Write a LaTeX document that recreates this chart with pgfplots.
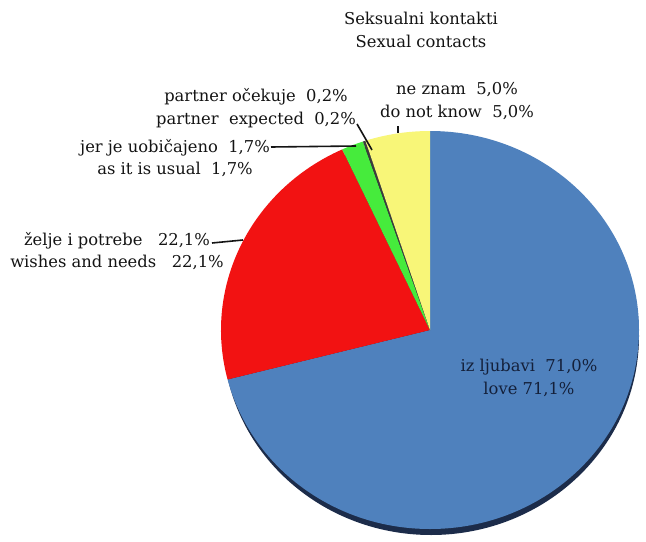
\documentclass[border=0pt]{standalone}
\usepackage{pgfplots}
\pgfplotsset{compat=1.18}
\usepackage{fontspec}
\setmainfont{DejaVu Serif}

\definecolor{pieblue}{RGB}{79,129,189}
\definecolor{piered}{RGB}{242,18,18}
\definecolor{piegreen}{RGB}{70,235,60}
\definecolor{piedark}{RGB}{60,60,60}
\definecolor{pieyellow}{RGB}{248,246,120}
\definecolor{pieshadow}{RGB}{28,44,74}
\definecolor{txt}{RGB}{20,20,20}
\definecolor{lovetxt}{RGB}{20,32,58}

\begin{document}
\begin{tikzpicture}
% shares in percent (clockwise from 12 o'clock)
\pgfmathsetmacro{\pA}{71.0}% iz ljubavi
\pgfmathsetmacro{\pB}{22.1}% zelje i potrebe
\pgfmathsetmacro{\pC}{1.7}%  jer je uobicajeno
\pgfmathsetmacro{\pD}{0.2}%  partner ocekuje
\pgfmathsetmacro{\pE}{5.0}%  ne znam
\pgfmathsetmacro{\aA}{90-3.6*\pA}
\pgfmathsetmacro{\aB}{\aA-3.6*\pB}
\pgfmathsetmacro{\aC}{\aB-3.6*\pC}
\pgfmathsetmacro{\aD}{\aC-3.6*\pD}
\pgfmathsetmacro{\aE}{\aD-3.6*\pE}
\begin{axis}[
  scale only axis, width=646bp, height=542bp,
  xmin=0, xmax=646, ymin=0, ymax=542,
  y dir=reverse,
  hide axis, clip=false,
]
\fill[white] (axis cs:0,0) rectangle (axis cs:646,542);

% rim shadow
\fill[pieshadow] (axis cs:431,336) ellipse [x radius=208bp, y radius=199bp];

% wedges
\fill[pieblue] (axis cs:430,330) -- ++(90:209bp and 199bp)
  arc[start angle=90, end angle=\aA, x radius=209bp, y radius=199bp] -- cycle;
\fill[piered] (axis cs:430,330) -- ++(\aA:209bp and 199bp)
  arc[start angle=\aA, end angle=\aB, x radius=209bp, y radius=199bp] -- cycle;
\fill[piegreen] (axis cs:430,330) -- ++(\aB:209bp and 199bp)
  arc[start angle=\aB, end angle=\aC, x radius=209bp, y radius=199bp] -- cycle;
\fill[piedark] (axis cs:430,330) -- ++(\aC:209bp and 199bp)
  arc[start angle=\aC, end angle=\aD, x radius=209bp, y radius=199bp] -- cycle;
\fill[pieyellow] (axis cs:430,330) -- ++(\aD:209bp and 199bp)
  arc[start angle=\aD, end angle=\aE, x radius=209bp, y radius=199bp] -- cycle;

% leader lines
\draw[line width=1.6bp, txt] (axis cs:357,124) -- (axis cs:372,150);
\draw[line width=1.6bp, txt] (axis cs:398,126) -- (axis cs:398,133);
\draw[line width=1.6bp, txt] (axis cs:271,147) -- (axis cs:356,146);
\draw[line width=1.6bp, txt] (axis cs:212,243) -- (axis cs:243,240);

% labels
\tikzset{lbl/.style={align=center, text=txt, inner sep=0pt,
  font=\fontsize{16.4}{22.5}\selectfont}}
\node[lbl] at (axis cs:421,30) {Seksualni kontakti\\Sexual contacts};
\node[lbl] at (axis cs:256,108) {partner očekuje~~0,2\%\\partner~~expected~~0,2\%};
\node[lbl] at (axis cs:457,101) {ne znam~~5,0\%\\do not know~~5,0\%};
\node[lbl] at (axis cs:175,158) {jer je uobičajeno~~1,7\%\\as it is usual~~1,7\%};
\node[lbl] at (axis cs:117,251) {želje i potrebe~~~22,1\%\\wishes and needs~~~22,1\%};
\node[lbl, text=lovetxt] at (axis cs:529,378) {iz ljubavi~~71,0\%\\love 71,1\%};
\end{axis}
\end{tikzpicture}
\end{document}
